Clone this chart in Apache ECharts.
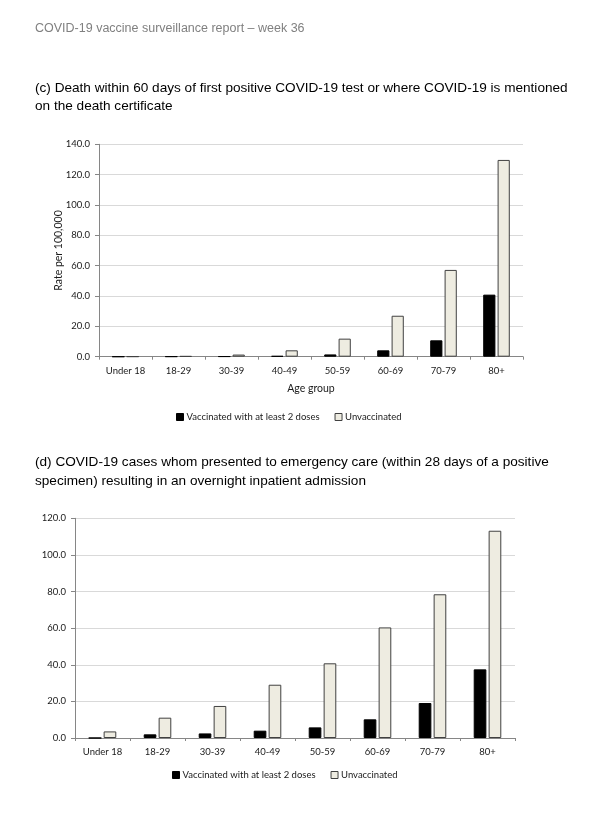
<!DOCTYPE html>
<html><head><meta charset="utf-8">
<script src="https://cdn.jsdelivr.net/npm/echarts@6/dist/echarts.min.js"></script>
<style>html,body{margin:0;padding:0;background:#fff}#c{width:600px;height:828px}</style>
</head><body><div id="c"></div>
<script>
const ageGroups = ['Under 18','18-29','30-39','40-49','50-59','60-69','70-79','80+'];
const deathVacc   = [0.0, 0.1, 0.2, 0.5, 1.5, 4.2, 10.8, 40.9];
const deathUnvacc = [0.1, 0.4, 1.4, 4.2, 11.9, 27.0, 57.2, 129.7];
const admVacc     = [0.0, 2.0, 2.5, 4.0, 5.8, 10.2, 19.1, 37.5];
const admUnvacc   = [3.6, 11.1, 17.5, 29.1, 40.8, 60.4, 78.5, 113.2];
const yTicksC = [0, 20, 40, 60, 80, 100, 120, 140];
const yTicksD = [0, 20, 40, 60, 80, 100, 120];
const seriesNames = ['Vaccinated with at least 2 doses', 'Unvaccinated'];
const headerText = 'COVID-19 vaccine surveillance report – week 36';
const titleC = ['(c) Death within 60 days of first positive COVID-19 test or where COVID-19 is mentioned', 'on the death certificate'];
const titleD = ['(d) COVID-19 cases whom presented to emergency care (within 28 days of a positive', 'specimen) resulting in an overnight inpatient admission'];

const FONT = 'Lato';
const axisCol = '#868686';
const labelCol = '#1a1a1a';
const unvCol = '#eeece1';

function yAxis(gi, ticks, name) {
  return {
    type: 'value', gridIndex: gi, min: ticks[0], max: ticks[ticks.length-1], interval: 20,
    name: name, nameLocation: 'middle', nameGap: 35, nameRotate: 90, nameMoveOverlap: false,
    nameTextStyle: {fontFamily: FONT, fontSize: 10.5, color: labelCol},
    axisLine: {show: true, lineStyle: {color: axisCol}},
    axisTick: {show: true, length: 4, lineStyle: {color: axisCol}},
    axisLabel: {fontFamily: FONT, fontSize: 9.5, color: labelCol, margin: 9, formatter: v => v.toFixed(1)},
    splitLine: {lineStyle: {color: '#d9d9d9'}}
  };
}
function xAxis(gi, name) {
  return {
    type: 'category', gridIndex: gi, data: ageGroups,
    name: name, nameLocation: 'middle', nameGap: 26,
    nameTextStyle: {fontFamily: FONT, fontSize: 10.5, color: labelCol},
    axisLine: {lineStyle: {color: axisCol}},
    axisTick: {show: true, length: 3, lineStyle: {color: axisCol}},
    axisLabel: {fontFamily: FONT, fontSize: 9.5, color: labelCol, margin: 9}
  };
}
function bars(gi, vacc, unvacc) {
  return [
    {name: seriesNames[0], type: 'bar', xAxisIndex: gi, yAxisIndex: gi, data: vacc,
     barWidth: '23%', barGap: '18%',
     itemStyle: {color: '#000', borderColor: '#000', borderWidth: 1}},
    {name: seriesNames[1], type: 'bar', xAxisIndex: gi, yAxisIndex: gi, data: unvacc,
     barWidth: '23%', barGap: '18%',
     itemStyle: {color: unvCol, borderColor: '#404040', borderWidth: 1}}
  ];
}
const legendBase = {
  itemWidth: 7, itemHeight: 7, itemGap: 15, icon: 'rect', padding: 0,
  textStyle: {fontFamily: FONT, fontSize: 9.5, color: labelCol, padding: [0,0,0,-2]},
  data: [
    {name: seriesNames[0], itemStyle: {color: '#000', borderColor: '#000', borderWidth: 1}},
    {name: seriesNames[1], itemStyle: {color: unvCol, borderColor: '#404040', borderWidth: 1}}
  ]
};
function txt(s, x, y, size, color) {
  return {type: 'text', x: x, y: y, silent: true,
    style: {text: s, fontFamily: 'Liberation Sans', fontSize: size, fill: color,
            textAlign: 'left', textVerticalAlign: 'middle'}};
}

const chart = echarts.init(document.getElementById('c'), null, {renderer: 'canvas'});
chart.setOption({
  animation: false,
  backgroundColor: '#fff',
  graphic: [
    txt(headerText, 35, 28.3, 12.5, '#808080'),
    txt(titleC[0], 35, 88.3, 13.6, '#000'),
    txt(titleC[1], 35, 105.8, 13.6, '#000'),
    txt(titleD[0], 35, 462.5, 13.6, '#000'),
    txt(titleD[1], 35, 481, 13.6, '#000')
  ],
  grid: [
    {left: 99, top: 144.3, width: 424, height: 212.4},
    {left: 75, top: 518.3, width: 440, height: 219.7}
  ],
  xAxis: [xAxis(0, 'Age group'), xAxis(1, '')],
  yAxis: [yAxis(0, yTicksC, 'Rate per 100,000'), yAxis(1, yTicksD, '')],
  legend: [
    Object.assign({}, legendBase, {left: 176, top: 412}),
    Object.assign({}, legendBase, {left: 172, top: 770})
  ],
  series: [...bars(0, deathVacc, deathUnvacc), ...bars(1, admVacc, admUnvacc)]
});
</script></body></html>
